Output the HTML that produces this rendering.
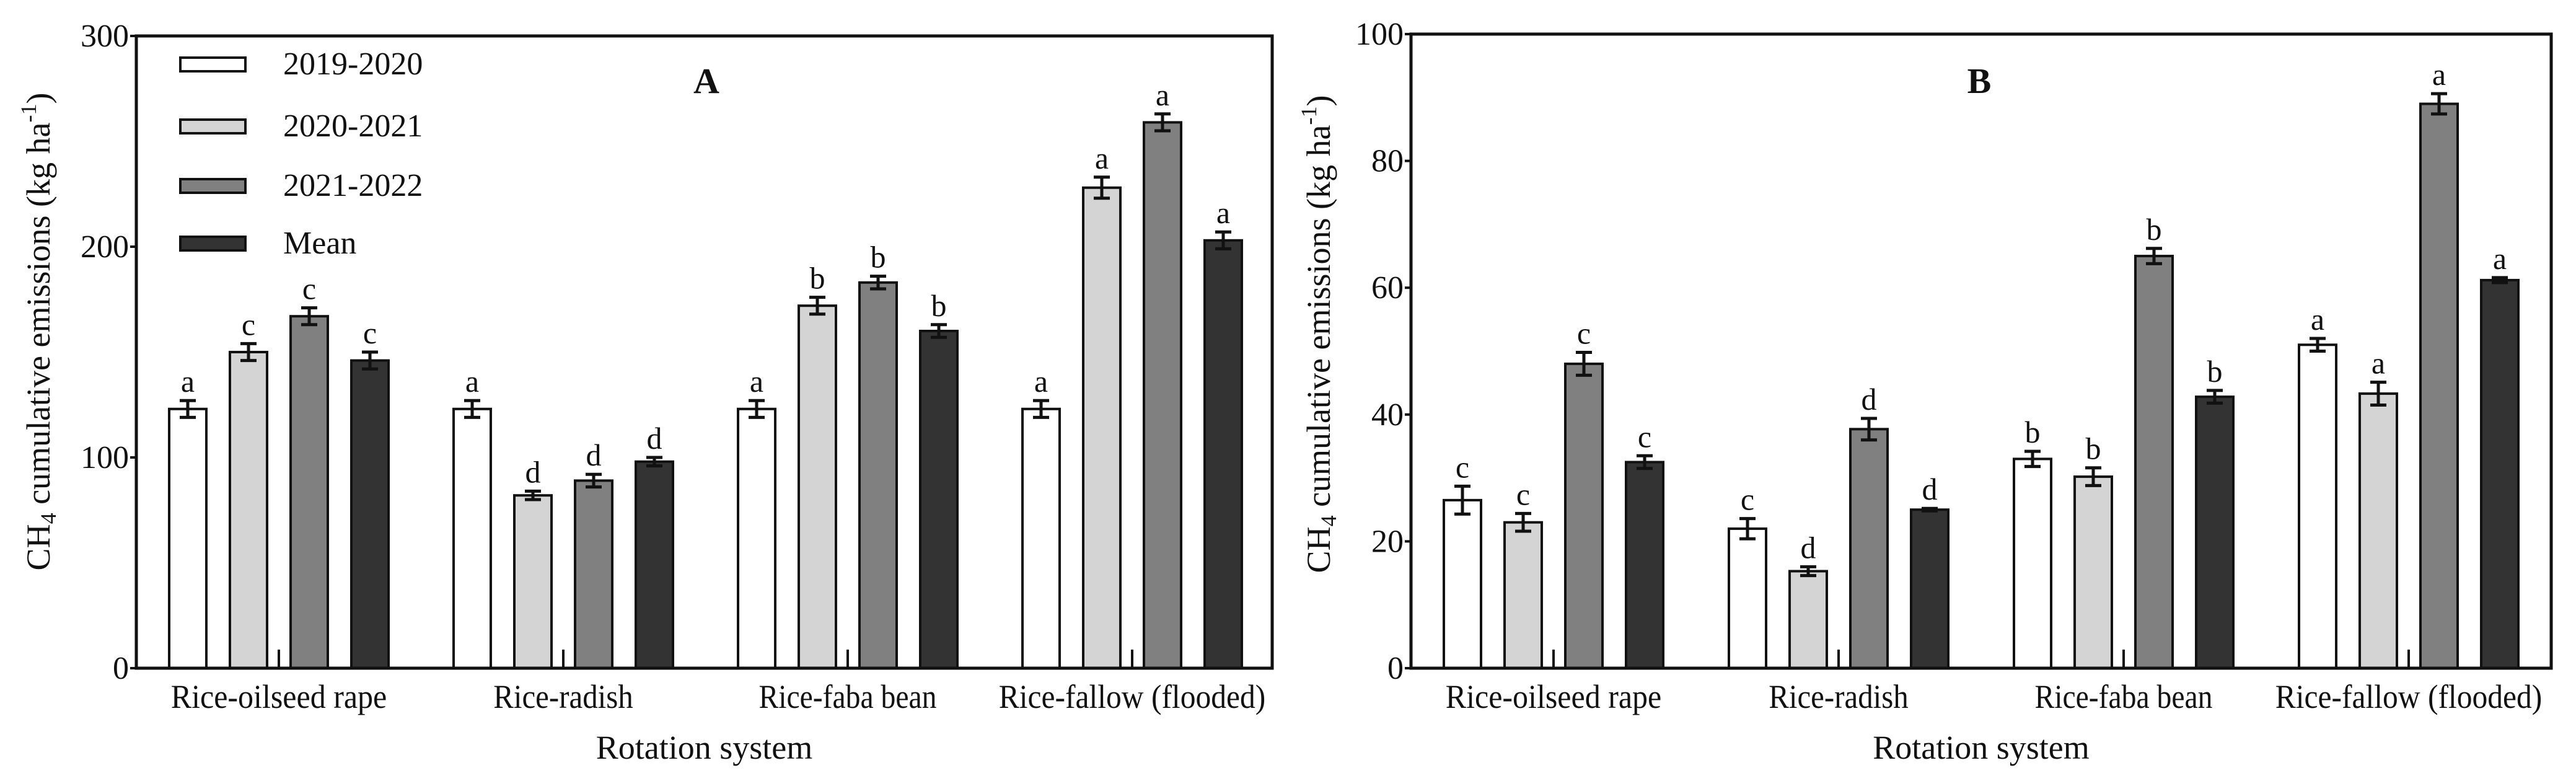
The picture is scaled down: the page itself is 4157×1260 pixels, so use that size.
<!DOCTYPE html>
<html><head><meta charset="utf-8"><style>
html,body{margin:0;padding:0;background:#fff}
svg text{font-family:"Liberation Serif","DejaVu Serif",serif;fill:#111}
</style></head><body>
<svg id="chart" width="4157" height="1255" viewBox="0 0 4157 1255" xmlns="http://www.w3.org/2000/svg" font-family="Liberation Serif, serif"></svg>
<script>
const categories = ["Rice-oilseed rape","Rice-radish","Rice-faba bean","Rice-fallow (flooded)"];
const seriesNames = ["2019-2020","2020-2021","2021-2022","Mean"];
const aY1 = [123,123,123,123];
const aY2 = [150,82,172,228];
const aY3 = [167,89,183,259];
const aMean = [146,98,160,203];
const aE1 = [4,4,4,4];
const aE2 = [4,2,4,5];
const aE3 = [4,3,3,4];
const aEM = [4,2,3,4];
const aLetters = [["a","c","c","c"],["a","d","d","d"],["a","b","b","b"],["a","a","a","a"]];
const aTicks = [0,100,200,300];
const bY1 = [26.5,22,33,51];
const bY2 = [23,15.3,30.2,43.3];
const bY3 = [48,37.7,65,89];
const bMean = [32.5,25,42.8,61.2];
const bE1 = [2.2,1.6,1.2,1];
const bE2 = [1.4,0.7,1.4,1.8];
const bE3 = [1.8,1.7,1.2,1.6];
const bEM = [1,0.2,1,0.4];
const bLetters = [["c","c","c","c"],["c","d","d","d"],["b","b","b","b"],["a","a","a","a"]];
const bTicks = [0,20,40,60,80,100];

const NS="http://www.w3.org/2000/svg";
const svg=document.getElementById('chart');
const fills=["#ffffff","#d4d4d4","#808080","#333333"];
const FF='"Liberation Serif", serif';
function mk(tag,attrs,parent){const e=document.createElementNS(NS,tag);for(const k in attrs)e.setAttribute(k,attrs[k]);if(tag==='text')e.style.fontFamily=FF;(parent||svg).appendChild(e);return e;}

function panel(p){
  const g=mk('g',{});
  
  
  const y=v=>p.bottom-(v/p.max)*(p.bottom-p.top);
  const series=[p.s1,p.s2,p.s3,p.sm];
  const errs=[p.e1,p.e2,p.e3,p.em];
  p.ticks.forEach(t=>{
    const ln=mk('line',{x1:p.left-10,x2:p.left,y1:y(t),y2:y(t),stroke:'#111','stroke-width':4},g);
    
    
    const tx=mk('text',{x:p.left-12,y:y(t)+17,'text-anchor':'end','font-size':52},g);
    tx.textContent=t;
    
    
  });
  categories.forEach((c,ci)=>{
    const gx=p.g0+ci*p.gstep;
    series.forEach((s,si)=>{
      const x=gx+si*p.bstep;
      const r=mk('rect',{x:x,y:y(s[ci]),width:p.bw,height:p.bottom-y(s[ci]),fill:fills[si],stroke:'#111','stroke-width':4},g);
      
      
      const cx=x+p.bw/2, hi=y(s[ci]+errs[si][ci]), lo=y(s[ci]-errs[si][ci]);
      const eb=mk('path',{d:`M${cx-13},${hi}H${cx+13}M${cx},${hi}V${lo}M${cx-13},${lo}H${cx+13}`,stroke:'#111','stroke-width':5,fill:'none'},g);
      
      
      const lt=mk('text',{x:cx,y:hi-14,'text-anchor':'middle','font-size':50},g);
      lt.textContent=p.letters[ci][si];
      
      
    });
    const cxm=gx+p.bw/2+1.5*p.bstep;
    const tk=mk('line',{x1:cxm,x2:cxm,y1:p.bottom-30,y2:p.bottom,stroke:'#111','stroke-width':4},g);
    
    
    const cl=mk('text',{x:cxm,y:1142,'text-anchor':'middle','font-size':54,'textLength':c.length*20.5,'lengthAdjust':'spacingAndGlyphs'},g);
    cl.textContent=c;
    
    
  });
  const fr=mk('rect',{x:p.left,y:p.top,width:p.right-p.left,height:p.bottom-p.top,fill:'none',stroke:'#111','stroke-width':5},g);
  
  
  const tt=mk('text',{x:p.titleX,y:150,'text-anchor':'middle','font-size':58,'font-weight':'bold'},g);
  tt.textContent=p.id;
  
  
  const xt=mk('text',{x:(p.left+p.right)/2,y:1224,'text-anchor':'middle','font-size':54},g);
  xt.textContent='Rotation system';
  
  
  const yt=mk('text',{x:0,y:0,'text-anchor':'middle','font-size':54,transform:`translate(${p.ytx},${p.yty}) rotate(-90)`},g);
  yt.innerHTML='CH<tspan font-size="36" dy="10">4</tspan><tspan dy="-10"> cumulative emissions  (kg ha</tspan><tspan font-size="36" dy="-22">-1</tspan><tspan dy="22">)</tspan>';
  
  
  return g;
}
panel({id:'A',left:220,right:2053,top:58,bottom:1078,max:300,ticks:aTicks,g0:273,gstep:459,bstep:98,bw:60,
  s1:aY1,s2:aY2,s3:aY3,sm:aMean,e1:aE1,e2:aE2,e3:aE3,em:aEM,letters:aLetters,titleX:1140,ytx:80,yty:535});
panel({id:'B',left:2277,right:4117,top:55,bottom:1078,max:100,ticks:bTicks,g0:2330,gstep:460,bstep:98,bw:60,
  s1:bY1,s2:bY2,s3:bY3,sm:bMean,e1:bE1,e2:bE2,e3:bE3,em:bEM,letters:bLetters,titleX:3194,ytx:2146,yty:539});
const lg=mk('g',{});


const ly=[103,203,299,392];
seriesNames.forEach((n,i)=>{
  const r=mk('rect',{x:291,y:ly[i]-10,width:105,height:22,fill:fills[i],stroke:'#111','stroke-width':4},lg);
  
  
  const t=mk('text',{x:457,y:ly[i]+17,'font-size':52},lg);
  t.textContent=n;
  
  
});
</script>
</body></html>
